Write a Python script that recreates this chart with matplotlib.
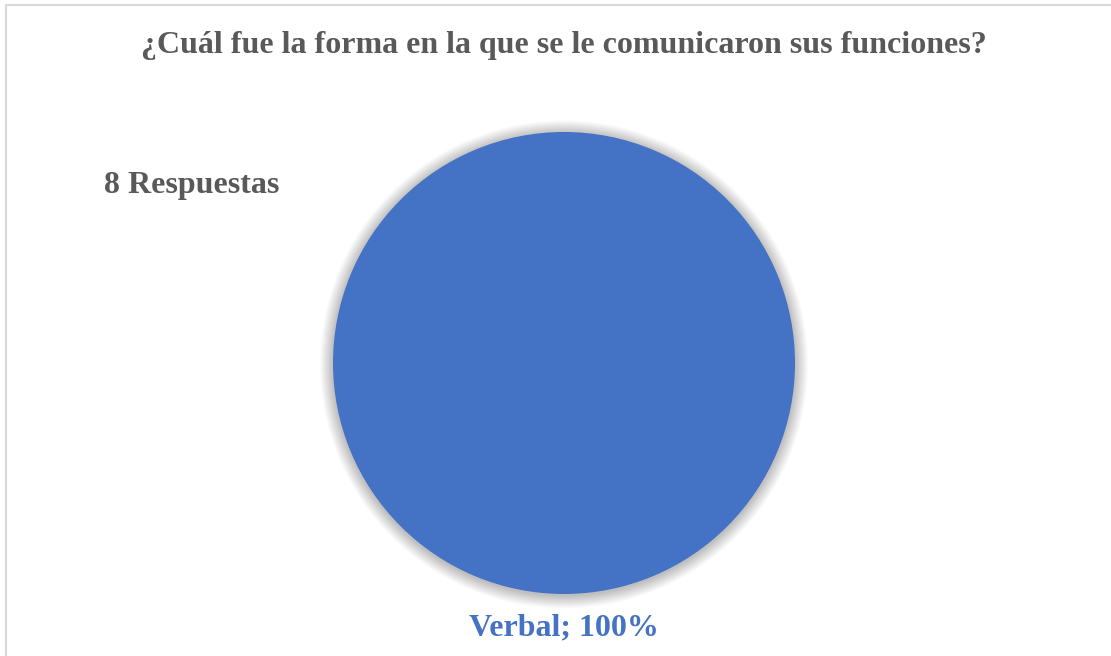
import matplotlib
matplotlib.use("Agg")
import matplotlib.pyplot as plt
from matplotlib.patches import Rectangle, Circle

categories = ["Verbal"]
values = [8]
title = "¿Cuál fue la forma en la que se le comunicaron sus funciones?"
subtitle = "8 Respuestas"

W, H = 1111, 656
fig = plt.figure(figsize=(W / 100, H / 100), dpi=100)
fig.patch.set_facecolor("white")

# border (right and bottom edges fall outside the image)
fig.patches.append(Rectangle((6 / W, -10 / H), (W + 10 - 6) / W, (H - 5 + 10) / H,
                             transform=fig.transFigure, fill=False,
                             edgecolor="#D9D9D9", linewidth=1.5))

cx, cy, r = 564, H - 363, 231
lim = 1.12
size = 2 * r * lim
ax = fig.add_axes([(cx - size / 2) / W, (cy - size / 2) / H, size / W, size / H])

total = sum(values)
labels = [f"{c}; {v / total * 100:.0f}%" for c, v in zip(categories, values)]

# soft shadow
for k in range(16):
    ax.add_patch(Circle((0, -0.006), 1 + 0.0035 * (k + 1), facecolor="#000000",
                        alpha=0.016, edgecolor="none", zorder=0))

wedges, texts = ax.pie(values, labels=labels, colors=["#4472C4"], startangle=90,
                       radius=1, labeldistance=1.147, frame=True,
                       textprops=dict(fontfamily="Liberation Serif", fontweight="bold",
                                      fontsize=23, color="#4472C4",
                                      ha="center", va="center"))
for w in wedges:
    w.set_zorder(2)
ax.set_xlim(-lim, lim)
ax.set_ylim(-lim, lim)
ax.set_aspect("equal")
ax.axis("off")

fig.text(564 / W, 1 - 45 / H, title, fontfamily="Liberation Serif", fontweight="bold",
         fontsize=23, color="#595959", ha="center", va="center")
fig.text(104 / W, 1 - 186 / H, subtitle, fontfamily="Liberation Serif", fontweight="bold",
         fontsize=23, color="#595959", ha="left", va="center")

fig.savefig("out.png", dpi=100)
